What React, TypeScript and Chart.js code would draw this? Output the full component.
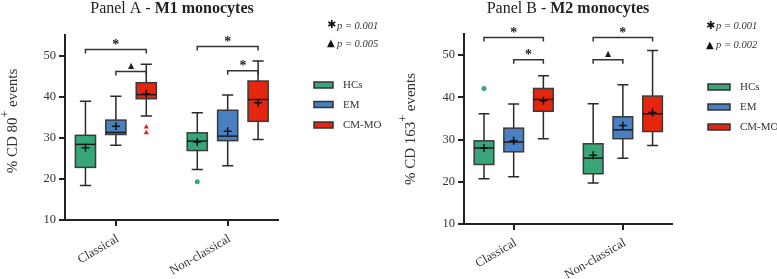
import React, { useEffect, useRef } from "react";
import { Chart, registerables } from "chart.js";
Chart.register(...registerables);

const SERIF = "'Liberation Serif', 'Times New Roman', serif";
const SANS = "'DejaVu Sans', sans-serif";

const categories = ["Classical", "Non-classical"];
const groups = ["HCs", "EM", "CM-MO"];
const groupColors = ["#38a679", "#4a7fc1", "#e5250e"];
const yTickValues = [10, 20, 30, 40, 50];

// Panel A (M1 monocytes, CD80) — [min, q1, median, q3, max] for HCs, EM, CM-MO
const m1Classical = [
  [18.4, 22.8, 28.4, 30.6, 38.9],
  [28.2, 30.8, 31.3, 34.3, 40.1],
  [35.3, 39.5, 40.5, 43.4, 47.9],
];
const m1NonClassical = [
  [22.3, 26.9, 29.2, 31.2, 36.1],
  [23.2, 29.3, 30.4, 36.7, 40.4],
  [29.6, 34.0, 39.3, 43.8, 48.7],
];
const m1MeansClassical = [27.6, 32.8, 40.7];
const m1MeansNonClassical = [29.0, 31.6, 38.5];
const m1OutlierCat = [0, 0, 1];
const m1OutlierGroup = [2, 2, 0];
const m1OutlierValues = [32.6, 31.2, 19.3];
// [category, fromGroup, toGroup, y value, mark]
const m1Brackets: [number, number, number, number, string][] = [
  [0, 0, 2, 51.5, "*"],
  [0, 1, 2, 46.1, "▲"],
  [1, 0, 2, 52.2, "*"],
  [1, 1, 2, 46.3, "*"],
];
const m1PValues = ["p = 0.001", "p = 0.005"];

// Panel B (M2 monocytes, CD163)
const m2Classical = [
  [20.7, 24.1, 28.0, 29.7, 36.1],
  [21.2, 27.1, 29.4, 32.7, 38.4],
  [30.2, 36.7, 39.5, 42.1, 45.1],
];
const m2NonClassical = [
  [19.7, 21.9, 25.6, 29.0, 38.5],
  [25.6, 30.2, 32.3, 35.4, 43.0],
  [28.6, 31.9, 36.1, 40.3, 51.1],
];
const m2MeansClassical = [28.0, 29.7, 39.2];
const m2MeansNonClassical = [26.3, 33.3, 36.4];
const m2OutlierCat = [0];
const m2OutlierGroup = [0];
const m2OutlierValues = [42.1];
const m2Brackets: [number, number, number, number, string][] = [
  [0, 0, 2, 54.2, "*"],
  [0, 1, 2, 48.9, "*"],
  [1, 0, 2, 54.2, "*"],
  [1, 0, 1, 48.9, "▲"],
];
const m2PValues = ["p = 0.001", "p = 0.002"];

const OFFSET = 0.272;
const BOX_W = 0.18;
const CAP_W = 0.1;

type PanelCfg = {
  title1: string;
  title2: string;
  yLabel: [string, string, string];
  boxes: number[][][];
  means: number[][];
  outCat: number[];
  outGroup: number[];
  outVal: number[];
  brackets: [number, number, number, number, string][];
  pValues: string[];
  width: number;
  left: number;
  pad: { left: number; right: number; top: number };
  yWidth: number;
  xHeight: number;
  titleX: number;
  yTitle: { x: number; y: number };
  legend: { x: number; w: number; tx: number; ys: number[] };
  pv: { x: number; tx: number; ys: number[] };
};

const panelA: PanelCfg = {
  title1: "Panel A - ",
  title2: "M1 monocytes",
  yLabel: ["% CD 80", "+", " events"],
  boxes: [m1Classical, m1NonClassical],
  means: [m1MeansClassical, m1MeansNonClassical],
  outCat: m1OutlierCat,
  outGroup: m1OutlierGroup,
  outVal: m1OutlierValues,
  brackets: m1Brackets,
  pValues: m1PValues,
  width: 390,
  left: 0,
  pad: { left: 0, right: 112, top: 35 },
  yWidth: 65,
  xHeight: 59,
  titleX: 172,
  yTitle: { x: 13, y: 121 },
  legend: { x: 314, w: 19, tx: 343, ys: [85, 104.5, 125] },
  pv: { x: 327, tx: 337, ys: [25.5, 43.5] },
};

const panelB: PanelCfg = {
  title1: "Panel B - ",
  title2: "M2 monocytes",
  yLabel: ["% CD 163", "+", " events"],
  boxes: [m2Classical, m2NonClassical],
  means: [m2MeansClassical, m2MeansNonClassical],
  outCat: m2OutlierCat,
  outGroup: m2OutlierGroup,
  outVal: m2OutlierValues,
  brackets: m2Brackets,
  pValues: m2PValues,
  width: 387,
  left: 390,
  pad: { left: 0, right: 105, top: 34 },
  yWidth: 74,
  xHeight: 55,
  titleX: 178,
  yTitle: { x: 21, y: 129 },
  legend: { x: 318, w: 22, tx: 350, ys: [87, 107, 127] },
  pv: { x: 316, tx: 326, ys: [26, 45] },
};

const pos = (c: number, g: number) => c + (g - 1) * OFFSET;

function Panel({ cfg }: { cfg: PanelCfg }) {
  const ref = useRef<HTMLCanvasElement>(null);
  useEffect(() => {
    const canvas = ref.current!;
    const meanPts = cfg.means.flatMap((arr, c) => arr.map((v, g) => ({ x: pos(c, g), y: v })));
    const circlePts: { x: number; y: number }[] = [];
    const triPts: { x: number; y: number }[] = [];
    cfg.outVal.forEach((v, i) => {
      const pt = { x: pos(cfg.outCat[i], cfg.outGroup[i]), y: v };
      if (cfg.outGroup[i] === 2) triPts.push(pt);
      else circlePts.push(pt);
    });

    const boxPlugin = {
      id: "boxes",
      beforeDatasetsDraw(chart: any) {
        const { ctx } = chart;
        const x = chart.scales.x;
        const y = chart.scales.y;
        const unit = x.getPixelForValue(1) - x.getPixelForValue(0);
        const hw = (unit * BOX_W) / 2;
        const cw = (unit * CAP_W) / 2;
        ctx.save();
        cfg.boxes.forEach((cat, c) => {
          cat.forEach((b, g) => {
            const [mn, q1, md, q3, mx] = b;
            const cx = x.getPixelForValue(pos(c, g));
            const yMin = y.getPixelForValue(mn);
            const yQ1 = y.getPixelForValue(q1);
            const yMd = y.getPixelForValue(md);
            const yQ3 = y.getPixelForValue(q3);
            const yMax = y.getPixelForValue(mx);
            ctx.strokeStyle = "#2a2a2a";
            ctx.lineWidth = 1.5;
            ctx.beginPath();
            ctx.moveTo(cx, yQ3);
            ctx.lineTo(cx, yMax);
            ctx.moveTo(cx - cw, yMax);
            ctx.lineTo(cx + cw, yMax);
            ctx.moveTo(cx, yQ1);
            ctx.lineTo(cx, yMin);
            ctx.moveTo(cx - cw, yMin);
            ctx.lineTo(cx + cw, yMin);
            ctx.stroke();
            ctx.fillStyle = groupColors[g];
            ctx.fillRect(cx - hw, yQ3, hw * 2, yQ1 - yQ3);
            ctx.strokeStyle = "#3a3a3a";
            ctx.strokeRect(cx - hw, yQ3, hw * 2, yQ1 - yQ3);
            ctx.strokeStyle = "#1a1a1a";
            ctx.beginPath();
            ctx.moveTo(cx - hw, yMd);
            ctx.lineTo(cx + hw, yMd);
            ctx.stroke();
          });
        });
        ctx.restore();
      },
      afterDraw(chart: any) {
        const { ctx } = chart;
        const x = chart.scales.x;
        const y = chart.scales.y;
        ctx.save();
        // significance brackets
        ctx.strokeStyle = "#333";
        ctx.lineWidth = 1.5;
        cfg.brackets.forEach(([c, f, t, yv, mark]) => {
          const x1 = x.getPixelForValue(pos(c, f));
          const x2 = x.getPixelForValue(pos(c, t));
          const yy = y.getPixelForValue(yv);
          ctx.beginPath();
          ctx.moveTo(x1, yy + 4);
          ctx.lineTo(x1, yy);
          ctx.lineTo(x2, yy);
          ctx.lineTo(x2, yy + 4);
          ctx.stroke();
          ctx.fillStyle = "#222";
          ctx.textAlign = "center";
          if (mark === "*") {
            ctx.font = `bold 14px ${SERIF}`;
            ctx.textBaseline = "alphabetic";
            ctx.fillText("*", (x1 + x2) / 2, yy - 0.5);
          } else {
            ctx.font = `8px ${SANS}`;
            ctx.textBaseline = "middle";
            ctx.fillText(mark, (x1 + x2) / 2, yy - 6);
          }
        });
        // category labels
        ctx.fillStyle = "#333";
        ctx.font = `12.5px ${SERIF}`;
        ctx.textAlign = "right";
        ctx.textBaseline = "middle";
        categories.forEach((lab, c) => {
          const tx = x.getPixelForValue(c);
          ctx.save();
          ctx.translate(tx + 2, y.bottom + 18);
          ctx.rotate((-30 * Math.PI) / 180);
          ctx.fillText(lab, 0, 0);
          ctx.restore();
        });
        // title
        ctx.textBaseline = "middle";
        ctx.textAlign = "left";
        ctx.fillStyle = "#222";
        ctx.font = `16px ${SERIF}`;
        const w1 = ctx.measureText(cfg.title1).width;
        ctx.font = `bold 16px ${SERIF}`;
        const w2 = ctx.measureText(cfg.title2).width;
        const sx = cfg.titleX - (w1 + w2) / 2;
        ctx.font = `16px ${SERIF}`;
        ctx.fillText(cfg.title1, sx, 9);
        ctx.font = `bold 16px ${SERIF}`;
        ctx.fillText(cfg.title2, sx + w1, 9);
        // y-axis title
        ctx.save();
        ctx.translate(cfg.yTitle.x, cfg.yTitle.y);
        ctx.rotate(-Math.PI / 2);
        ctx.fillStyle = "#333";
        ctx.font = `15px ${SERIF}`;
        const a = ctx.measureText(cfg.yLabel[0]).width;
        const cc = ctx.measureText(cfg.yLabel[2]).width;
        ctx.font = `12px ${SERIF}`;
        const b = ctx.measureText(cfg.yLabel[1]).width;
        let px = -(a + b + cc) / 2;
        ctx.font = `15px ${SERIF}`;
        ctx.fillText(cfg.yLabel[0], px, 0);
        px += a;
        ctx.font = `12px ${SERIF}`;
        ctx.fillText(cfg.yLabel[1], px, -7);
        px += b;
        ctx.font = `15px ${SERIF}`;
        ctx.fillText(cfg.yLabel[2], px, 0);
        ctx.restore();
        // legend
        groups.forEach((gname, g) => {
          const ly = cfg.legend.ys[g];
          ctx.fillStyle = groupColors[g];
          ctx.fillRect(cfg.legend.x, ly - 3, cfg.legend.w, 6);
          ctx.strokeStyle = "#333";
          ctx.lineWidth = 1.5;
          ctx.strokeRect(cfg.legend.x, ly - 3, cfg.legend.w, 6);
          ctx.fillStyle = "#333";
          ctx.font = `11px ${SERIF}`;
          ctx.textAlign = "left";
          ctx.textBaseline = "middle";
          ctx.fillText(gname, cfg.legend.tx, ly + 0.5);
        });
        // p values
        const marks = ["✱", "▲"];
        cfg.pValues.forEach((pt, i) => {
          const py = cfg.pv.ys[i];
          ctx.fillStyle = "#111";
          ctx.font = `${i === 0 ? 11 : 10}px ${SANS}`;
          ctx.textAlign = "left";
          ctx.textBaseline = "middle";
          ctx.fillText(marks[i], cfg.pv.x, py);
          ctx.fillStyle = "#333";
          ctx.font = `italic 10.5px ${SERIF}`;
          ctx.fillText(pt, cfg.pv.tx, py + 0.5);
        });
        ctx.restore();
      },
    };

    const axisGrid = {
      display: true,
      drawOnChartArea: false,
      drawTicks: true,
      tickLength: 6,
      color: "#222",
      lineWidth: 2,
    };

    const chart = new Chart(canvas, {
      type: "scatter",
      data: {
        datasets: [
          {
            label: "mean",
            data: meanPts,
            pointStyle: "cross",
            radius: 4,
            borderColor: "#111",
            borderWidth: 1.5,
          },
          {
            label: "outliers-circle",
            data: circlePts,
            pointStyle: "circle",
            radius: 2.5,
            backgroundColor: groupColors[0],
            borderWidth: 0,
          },
          {
            label: "outliers-triangle",
            data: triPts,
            pointStyle: "triangle",
            radius: 3,
            backgroundColor: groupColors[2],
            borderWidth: 0,
          },
        ] as any,
      },
      options: {
        animation: false,
        responsive: false,
        events: [],
        layout: { padding: { left: cfg.pad.left, right: cfg.pad.right, top: cfg.pad.top, bottom: 0 } },
        plugins: { legend: { display: false }, tooltip: { enabled: false } },
        scales: {
          x: {
            type: "linear",
            min: -0.455,
            max: 1.45,
            afterBuildTicks: (s: any) => {
              s.ticks = categories.map((_, i) => ({ value: i }));
            },
            afterFit: (s: any) => {
              s.height = cfg.xHeight;
            },
            ticks: { display: false },
            grid: axisGrid,
            border: { display: true, color: "#222", width: 2 },
          },
          y: {
            type: "linear",
            min: 10,
            max: 55,
            afterBuildTicks: (s: any) => {
              s.ticks = yTickValues.map((v) => ({ value: v }));
            },
            afterFit: (s: any) => {
              s.width = cfg.yWidth;
            },
            ticks: { color: "#333", font: { family: SERIF, size: 12.5 }, padding: 3 },
            grid: axisGrid,
            border: { display: true, color: "#222", width: 2 },
          },
        },
      } as any,
      plugins: [boxPlugin],
    });
    return () => chart.destroy();
  }, [cfg]);
  return (
    <div style={{ position: "absolute", left: cfg.left, top: 0, width: cfg.width, height: 279 }}>
      <canvas ref={ref} width={cfg.width} height={279} style={{ width: cfg.width, height: 279, display: "block" }} />
    </div>
  );
}

export default function App() {
  return (
    <div style={{ position: "fixed", left: 0, top: 0, width: 777, height: 279, background: "#fff", overflow: "hidden" }}>
      <Panel cfg={panelA} />
      <Panel cfg={panelB} />
    </div>
  );
}
